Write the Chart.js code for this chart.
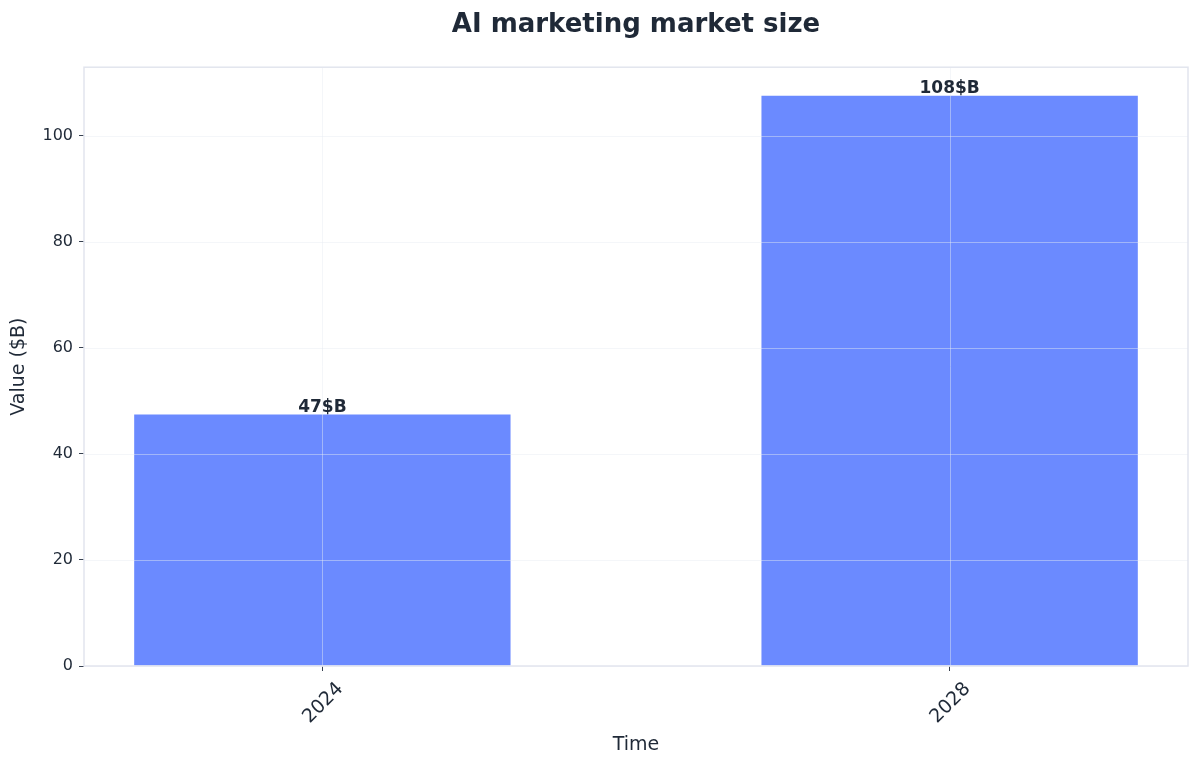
<!DOCTYPE html>
<html>
<head>
<meta charset="utf-8">
<script src="https://cdn.jsdelivr.net/npm/chart.js@4/dist/chart.umd.min.js"></script>
<style>
  html, body { margin: 0; background: #fff; }
</style>
</head>
<body>
<canvas id="chart" width="1200" height="768"></canvas>
<script>
const years = ["2024", "2028"];
const values = [47.4, 107.5];
const valueLabels = ["47$B", "108$B"];
const yTicks = [0, 20, 40, 60, 80, 100];

const ink = "#1f2937";
const font = "'DejaVu Sans', sans-serif";

// grid over the bars, plot frame and value labels
const overlay = {
  id: "overlay",
  afterDatasetsDraw(chart) {
    const { ctx, chartArea: a, scales: { x, y } } = chart;
    ctx.save();
    ctx.lineWidth = 1;
    ctx.strokeStyle = "rgba(230,234,242,0.45)";
    ctx.beginPath();
    yTicks.forEach(v => {
      const py = Math.round(y.getPixelForValue(v)) + 0.5;
      ctx.moveTo(a.left, py);
      ctx.lineTo(a.right, py);
    });
    years.forEach((_, i) => {
      const px = Math.round(x.getPixelForValue(i)) + 0.5;
      ctx.moveTo(px, a.top);
      ctx.lineTo(px, a.bottom);
    });
    ctx.stroke();

    ctx.strokeStyle = "#e2e5ee";
    ctx.lineWidth = 1.5;
    ctx.strokeRect(a.left, a.top, a.right - a.left, a.bottom - a.top);

    const meta = chart.getDatasetMeta(0);
    ctx.fillStyle = ink;
    ctx.font = "bold 17px " + font;
    ctx.textAlign = "center";
    ctx.textBaseline = "bottom";
    meta.data.forEach((bar, i) => {
      ctx.fillText(valueLabels[i], bar.x, bar.y + 1);
    });
    ctx.restore();
  }
};

new Chart(document.getElementById("chart"), {
  type: "bar",
  data: {
    datasets: [
      {
        data: values.map((v, i) => ({ x: i, y: v })),
        backgroundColor: "#6b8aff",
        borderWidth: 0,
        barPercentage: 0.6,
        categoryPercentage: 1,
      },
    ],
  },
  options: {
    responsive: false,
    animation: false,
    devicePixelRatio: 1,
    layout: { padding: { left: 0, right: 12, top: 0, bottom: 0 } },
    plugins: {
      legend: { display: false },
      tooltip: { enabled: false },
      title: {
        display: true,
        fullSize: false,
        text: "AI marketing market size",
        color: ink,
        font: { family: font, size: 26, weight: "bold", lineHeight: 1.2 },
        padding: { top: 10, bottom: 26 },
      },
    },
    scales: {
      x: {
        type: "linear",
        offset: false,
        min: -0.38,
        max: 1.38,
        afterBuildTicks: (scale) => {
          scale.ticks = years.map((_, i) => ({ value: i }));
        },
        afterFit: (scale) => {
          scale.height = 102;
        },
        border: { display: false },
        grid: {
          offset: false,
          color: "transparent",
          drawTicks: true,
          tickLength: 5,
          tickColor: "#374151",
        },
        ticks: {
          color: ink,
          minRotation: 45,
          maxRotation: 45,
          labelOffset: 18,
          padding: 7,
          font: { family: font, size: 19 },
          callback: (value) => years[value],
        },
        title: {
          display: true,
          text: "Time",
          color: ink,
          font: { family: font, size: 19 },
          padding: { top: 4, bottom: 12 },
        },
      },
      y: {
        min: 0,
        max: 112.9,
        afterBuildTicks: (scale) => {
          scale.ticks = yTicks.map(v => ({ value: v }));
        },
        afterFit: (scale) => {
          scale.width = 84;
        },
        border: { display: false },
        grid: {
          color: "transparent",
          drawTicks: true,
          tickLength: 5,
          tickColor: "#374151",
        },
        ticks: {
          color: ink,
          padding: 6,
          font: { family: font, size: 16 },
        },
        title: {
          display: true,
          text: "Value ($B)",
          color: ink,
          font: { family: font, size: 19 },
          padding: { top: 8, bottom: 4 },
        },
      },
    },
  },
  plugins: [overlay],
});
</script>
</body>
</html>
